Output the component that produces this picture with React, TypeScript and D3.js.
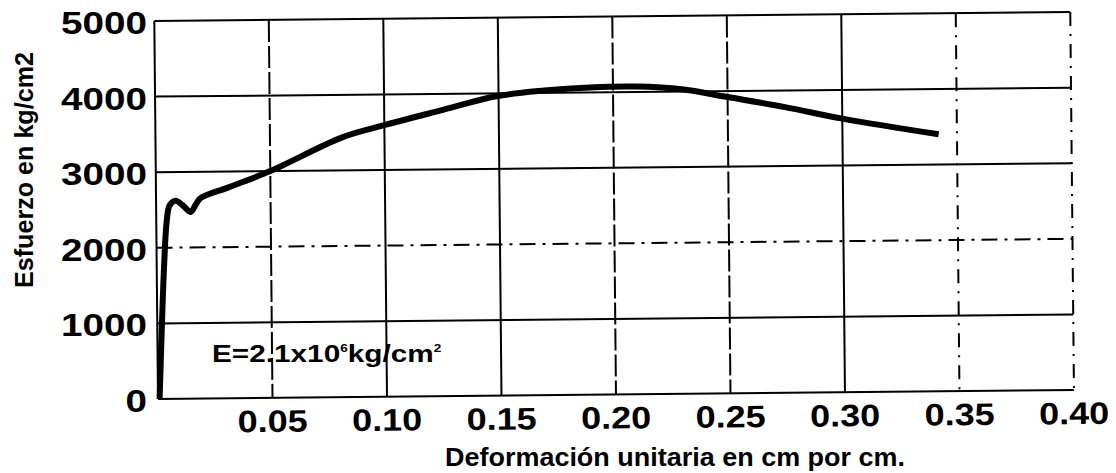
import React, { useEffect, useRef } from 'react';
import * as d3 from 'd3';

// strain (cm/cm) and stress (kg/cm2)
const strain = [0.0007, 0.0033, 0.0046, 0.0059, 0.0085, 0.0116, 0.015, 0.0172, 0.0194, 0.0317, 0.05, 0.081, 0.097, 0.126, 0.149, 0.17, 0.19, 0.21, 0.23, 0.25, 0.275, 0.3, 0.342];
const stress = [0, 1800, 2360, 2560, 2620, 2560, 2470, 2560, 2650, 2790, 3000, 3430, 3570, 3790, 3960, 4030, 4065, 4070, 4030, 3920, 3780, 3620, 3400];

const xTicks = [0.05, 0.1, 0.15, 0.2, 0.25, 0.3, 0.35, 0.4];
const xTickLabels = ['0.05', '0.10', '0.15', '0.20', '0.25', '0.30', '0.35', '0.40'];
const yTicks = [0, 1000, 2000, 3000, 4000, 5000];
const yTickLabels = ['0', '1000', '2000', '3000', '4000', '5000'];

const xTitle = 'Deformación unitaria en cm por cm.';
const yTitle = 'Esfuerzo en kg/cm2';

const App = () => {
  const svgRef = useRef(null);

  useEffect(() => {
    const svg = d3.select(svgRef.current);
    svg.selectAll('*').remove();

    const left = 158, right = 1074, top = 21, bottom = 399;
    const font = '"Liberation Sans", Arial, sans-serif';

    const x = d3.scaleLinear().domain([0, 0.4]).range([left, right]);
    const y = d3.scaleLinear().domain([0, 5000]).range([bottom, top]);

    svg.append('rect').attr('width', 1116).attr('height', 473).attr('fill', '#fff');

    // the scan is tilted a little, so the plot is too
    const g = svg.append('g').attr('transform', `rotate(-0.56, ${left}, ${bottom})`);

    // grid
    const hDash = v => (v === 2000 ? '16,7,3,7' : null);
    const vDash = v => ([0.05, 0.2, 0.25].includes(v) ? '22,4' : [0.35, 0.4].includes(v) ? '14,8,2,8' : null);

    g.selectAll('.hgrid')
      .data(yTicks)
      .enter().append('line')
      .attr('x1', left).attr('x2', right)
      .attr('y1', d => y(d)).attr('y2', d => y(d))
      .attr('stroke', '#000')
      .attr('stroke-width', 2)
      .attr('stroke-dasharray', d => hDash(d));

    g.selectAll('.vgrid')
      .data([0, ...xTicks])
      .enter().append('line')
      .attr('x1', d => x(d)).attr('x2', d => x(d))
      .attr('y1', top).attr('y2', bottom)
      .attr('stroke', '#000')
      .attr('stroke-width', 2)
      .attr('stroke-dasharray', d => vDash(d));

    // curve
    const line = d3.line()
      .x(d => x(d[0]))
      .y(d => y(d[1]))
      .curve(d3.curveCatmullRom.alpha(0.5));

    g.append('path')
      .datum(strain.map((s, i) => [s, stress[i]]))
      .attr('d', line)
      .attr('fill', 'none')
      .attr('stroke', '#000')
      .attr('stroke-width', 6)
      .attr('stroke-linejoin', 'round')
      .attr('stroke-linecap', 'butt');

    // tick labels
    g.selectAll('.xlab')
      .data(xTicks)
      .enter().append('text')
      .attr('x', d => x(d))
      .attr('y', bottom + 34)
      .attr('text-anchor', 'middle')
      .attr('textLength', 70)
      .attr('lengthAdjust', 'spacingAndGlyphs')
      .style('font-family', font)
      .style('font-weight', 'bold')
      .style('font-size', '31px')
      .text((d, i) => xTickLabels[i]);

    svg.selectAll('.ylab')
      .data(yTicks)
      .enter().append('text')
      .attr('x', 147)
      .attr('y', d => y(d) + 13)
      .attr('text-anchor', 'end')
      .attr('textLength', (d, i) => yTickLabels[i].length * 21.5)
      .attr('lengthAdjust', 'spacingAndGlyphs')
      .style('font-family', font)
      .style('font-weight', 'bold')
      .style('font-size', '31px')
      .text((d, i) => yTickLabels[i]);

    // axis titles
    svg.append('text')
      .attr('x', 675)
      .attr('y', 466)
      .attr('text-anchor', 'middle')
      .attr('textLength', 460)
      .attr('lengthAdjust', 'spacingAndGlyphs')
      .style('font-family', font)
      .style('font-weight', 'bold')
      .style('font-size', '25px')
      .text(xTitle);

    svg.append('text')
      .attr('transform', 'translate(33, 170) rotate(-90)')
      .attr('text-anchor', 'middle')
      .attr('textLength', 236)
      .attr('lengthAdjust', 'spacingAndGlyphs')
      .style('font-family', font)
      .style('font-weight', 'bold')
      .style('font-size', '25px')
      .text(yTitle);

    // modulus note, stretched like the scan
    const note = svg.append('text')
      .attr('transform', 'translate(212, 362) scale(1.24, 1)')
      .style('font-family', font)
      .style('font-weight', 'bold')
      .style('font-size', '24px');
    note.append('tspan').text('E=2.1x10');
    note.append('tspan').attr('dy', -10).style('font-size', '11px').text('6');
    note.append('tspan').attr('dy', 10).text('kg/cm');
    note.append('tspan').attr('dy', -10).style('font-size', '11px').text('2');
  }, []);

  return (
    <svg ref={svgRef} width={1116} height={473} style={{ position: 'absolute', left: 0, top: 0 }}></svg>
  );
};

export default App;
